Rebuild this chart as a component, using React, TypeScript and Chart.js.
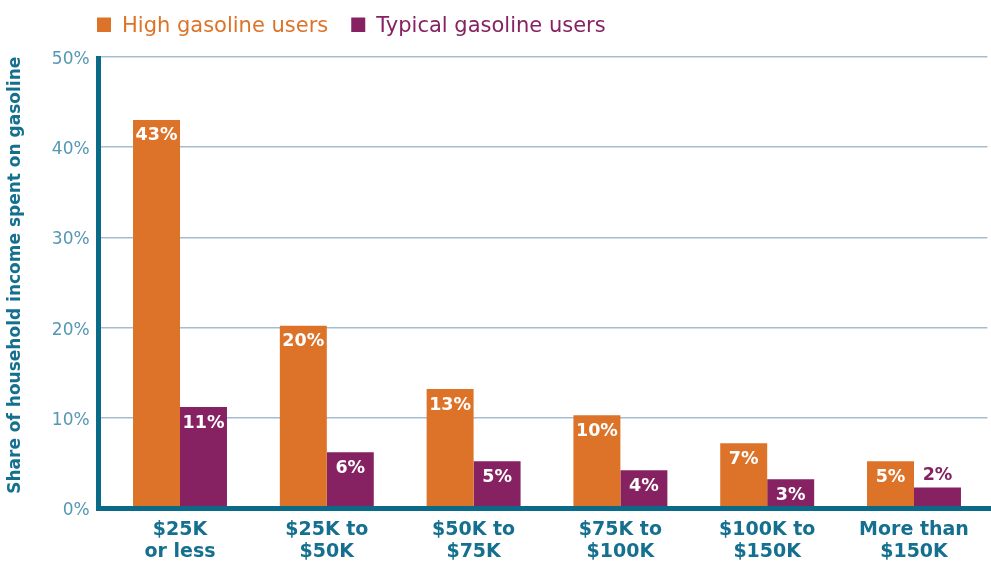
import React, { useEffect, useRef } from "react";
import { Chart, registerables } from "chart.js";

Chart.register(...registerables);

const categories: string[][] = [
  ["$25K", "or less"],
  ["$25K to", "$50K"],
  ["$50K to", "$75K"],
  ["$75K to", "$100K"],
  ["$100K to", "$150K"],
  ["More than", "$150K"],
];
const highUsers: number[] = [43.0, 20.2, 13.2, 10.3, 7.2, 5.2];
const typicalUsers: number[] = [11.2, 6.2, 5.2, 4.2, 3.2, 2.3];
const seriesNames: string[] = ["High gasoline users", "Typical gasoline users"];
const yTicks: number[] = [0, 10, 20, 30, 40, 50];
const yTitle = "Share of household income spent on gasoline";

const ORANGE = "#DC7329";
const PURPLE = "#862262";
const TEAL = "#0B6A88";
const TEAL_TEXT = "#15708F";
const TICK_TEXT = "#5597B4";
const GRID = "#A6BDCF";
const FONT = "'DejaVu Sans', sans-serif";

const legendPlugin = {
  id: "customLegend",
  afterDraw(chart: any) {
    const ctx = chart.ctx;
    ctx.save();
    ctx.font = `21px ${FONT}`;
    ctx.textBaseline = "alphabetic";
    ctx.textAlign = "left";
    let x = 97;
    chart.data.datasets.forEach((ds: any) => {
      ctx.fillStyle = ds.backgroundColor;
      ctx.fillRect(x, 17.5, 14, 14.5);
      x += 25;
      ctx.fillText(ds.label, x, 32);
      x += ctx.measureText(ds.label).width + 23;
    });
    ctx.restore();
  },
};

const axisLinesPlugin = {
  id: "axisLines",
  afterDatasetsDraw(chart: any) {
    const ctx = chart.ctx;
    const y = chart.scales.y;
    const area = chart.chartArea;
    const zero = y.getPixelForValue(0);
    const top = y.getPixelForValue(50);
    const ax = area.left - 8.1;
    ctx.save();
    ctx.strokeStyle = TEAL;
    ctx.lineWidth = 5;
    ctx.beginPath();
    ctx.moveTo(ax, top - 0.7);
    ctx.lineTo(ax, zero + 2.5);
    ctx.stroke();
    ctx.beginPath();
    ctx.moveTo(ax - 2.5, zero + 0.3);
    ctx.lineTo(chart.width, zero + 0.3);
    ctx.stroke();
    ctx.restore();
  },
};

const dataLabelPlugin = {
  id: "barValueLabels",
  afterDatasetsDraw(chart: any) {
    const ctx = chart.ctx;
    ctx.save();
    ctx.font = `bold 17.5px ${FONT}`;
    ctx.textAlign = "center";
    ctx.textBaseline = "middle";
    chart.data.datasets.forEach((ds: any, di: number) => {
      const meta = chart.getDatasetMeta(di);
      meta.data.forEach((bar: any, i: number) => {
        const v = ds.data[i];
        const text = Math.round(v) + "%";
        const h = bar.base - bar.y;
        if (h > 25) {
          ctx.fillStyle = "#FFFFFF";
          ctx.fillText(text, bar.x, bar.y + 16);
        } else {
          ctx.fillStyle = ds.backgroundColor;
          ctx.fillText(text, bar.x, bar.y - 12);
        }
      });
    });
    ctx.restore();
  },
};

export default function App() {
  const canvasRef = useRef<HTMLCanvasElement | null>(null);

  useEffect(() => {
    document.body.style.margin = "0";
    const canvas = canvasRef.current;
    if (!canvas) return;
    const chart = new Chart(canvas, {
      type: "bar",
      data: {
        labels: categories,
        datasets: [
          {
            label: seriesNames[0],
            data: highUsers,
            backgroundColor: ORANGE,
            borderWidth: 0,
            categoryPercentage: 0.64,
            barPercentage: 1.0,
          },
          {
            label: seriesNames[1],
            data: typicalUsers,
            backgroundColor: PURPLE,
            borderWidth: 0,
            categoryPercentage: 0.64,
            barPercentage: 1.0,
          },
        ],
      },
      options: {
        animation: false,
        responsive: true,
        maintainAspectRatio: false,
        layout: { padding: { top: 56.7, right: 3.6, bottom: 0, left: 0 } },
        plugins: {
          legend: { display: false },
          tooltip: { enabled: false },
        },
        scales: {
          x: {
            grid: { display: false, drawTicks: false },
            border: { display: false },
            ticks: {
              color: TEAL_TEXT,
              font: { family: FONT, size: 19, weight: "bold", lineHeight: 1.2 },
              padding: 10,
              maxRotation: 0,
              autoSkip: false,
            },
            afterFit(scale: any) {
              scale.height = 52.8;
            },
          },
          y: {
            min: 0,
            max: 50,
            afterBuildTicks(scale: any) {
              scale.ticks = yTicks.map((v) => ({ value: v }));
            },
            grid: {
              color: GRID,
              lineWidth: 1.5,
              drawTicks: true,
              tickLength: 7,
              tickColor: GRID,
            },
            border: { display: false },
            ticks: {
              color: TICK_TEXT,
              font: { family: FONT, size: 17, weight: "normal" },
              padding: 10,
              labelOffset: 2.5,
              callback: (v: any) => v + "%",
            },
            title: {
              display: true,
              text: yTitle,
              align: "end",
              color: TEAL_TEXT,
              font: { family: FONT, size: 17, weight: "bold", lineHeight: 1.2 },
              padding: { top: 5, bottom: 0 },
            },
            afterFit(scale: any) {
              scale.width = 106.6;
            },
          },
        },
      },
      plugins: [axisLinesPlugin, dataLabelPlugin, legendPlugin],
    });
    return () => chart.destroy();
  }, []);

  return (
    <div style={{ position: "relative", width: "991px", height: "561px" }}>
      <canvas ref={canvasRef} />
    </div>
  );
}
